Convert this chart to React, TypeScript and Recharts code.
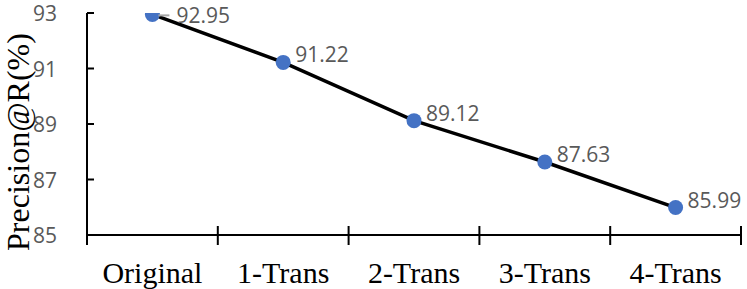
import React from 'react'
import { LineChart, Line, XAxis, YAxis, LabelList, Label } from 'recharts'

const categories = ['Original', '1-Trans', '2-Trans', '3-Trans', '4-Trans']
const precision = [92.95, 91.22, 89.12, 87.63, 85.99]
const yTicks = [85, 87, 89, 91, 93]

const data = categories.map((name, i) => ({ name, precision: precision[i] }))

const serif = '"Liberation Serif", "Times New Roman", serif'
const sans = '"Open Sans", "Liberation Sans", sans-serif'
const labelGray = '#595959'

const CategoryTick = (props: any) => {
  const { x, y, payload, index, visibleTicksCount, width } = props
  const half = payload.offset || width / visibleTicksCount / 2
  const last = index === visibleTicksCount - 1
  return (
    <g>
      <line x1={x - half} x2={x - half} y1={y - 9} y2={y + 10} stroke="#000" strokeWidth={2} />
      {last && <line x1={x + half} x2={x + half} y1={y - 9} y2={y + 10} stroke="#000" strokeWidth={2} />}
      <text x={x} y={y + 48} textAnchor="middle" fontFamily={serif} fontSize={30} fill="#000">
        {payload.value}
      </text>
    </g>
  )
}

const ValueTick = (props: any) => {
  const { x, y, payload } = props
  return (
    <g>
      <line x1={x} x2={x + 7} y1={y} y2={y} stroke="#000" strokeWidth={2} />
      <text x={x - 30} y={y} textAnchor="end" dominantBaseline="central" fontFamily={sans} fontSize={21} fill={labelGray}>
        {payload.value}
      </text>
    </g>
  )
}

const PointLabel = (props: any) => {
  const { x, y, value, index } = props
  if (index === 0) {
    // first label is pushed right with a small leader line
    return (
      <g>
        <line x1={x + 6} x2={x + 17} y1={y + 1} y2={y + 1} stroke="#a6a6a6" strokeWidth={2} />
        <text x={x + 24} y={y + 1} dominantBaseline="central" fontFamily={sans} fontSize={21} fill={labelGray}>
          {value}
        </text>
      </g>
    )
  }
  return (
    <text x={x + 12} y={y - 8} dominantBaseline="central" fontFamily={sans} fontSize={21} fill={labelGray}>
      {value}
    </text>
  )
}

const AxisTitle = (props: any) => {
  const { viewBox } = props
  const cx = viewBox.x + 29
  const cy = viewBox.y + viewBox.height / 2 + 18
  return (
    <text
      x={cx}
      y={cy}
      transform={`rotate(-90, ${cx}, ${cy})`}
      textAnchor="middle"
      fontFamily={serif}
      fontSize={32}
      fill="#000"
    >
      Precision@R(%)
    </text>
  )
}

export default function App() {
  return (
    <div style={{ position: 'absolute', left: 0, top: 0, background: '#fff' }}>
      <LineChart width={747} height={289} data={data} margin={{ top: 13, right: 6, left: 0, bottom: 0 }}>
        <XAxis
          dataKey="name"
          scale="band"
          height={54}
          axisLine={{ stroke: '#000', strokeWidth: 2 }}
          tickLine={false}
          tickSize={0}
          tickMargin={0}
          interval={0}
          tick={<CategoryTick />}
        />
        <YAxis
          width={87}
          domain={[85, 93]}
          ticks={yTicks}
          allowDataOverflow
          axisLine={{ stroke: '#000', strokeWidth: 2 }}
          tickLine={false}
          tickSize={0}
          tickMargin={0}
          tick={<ValueTick />}
        >
          <Label content={<AxisTitle />} />
        </YAxis>
        <Line
          type="linear"
          dataKey="precision"
          stroke="#000"
          strokeWidth={3.5}
          dot={{ r: 7.5, fill: '#4472c4', stroke: 'none' }}
          activeDot={false}
          isAnimationActive={false}
        >
          <LabelList dataKey="precision" content={<PointLabel />} />
        </Line>
      </LineChart>
    </div>
  )
}
